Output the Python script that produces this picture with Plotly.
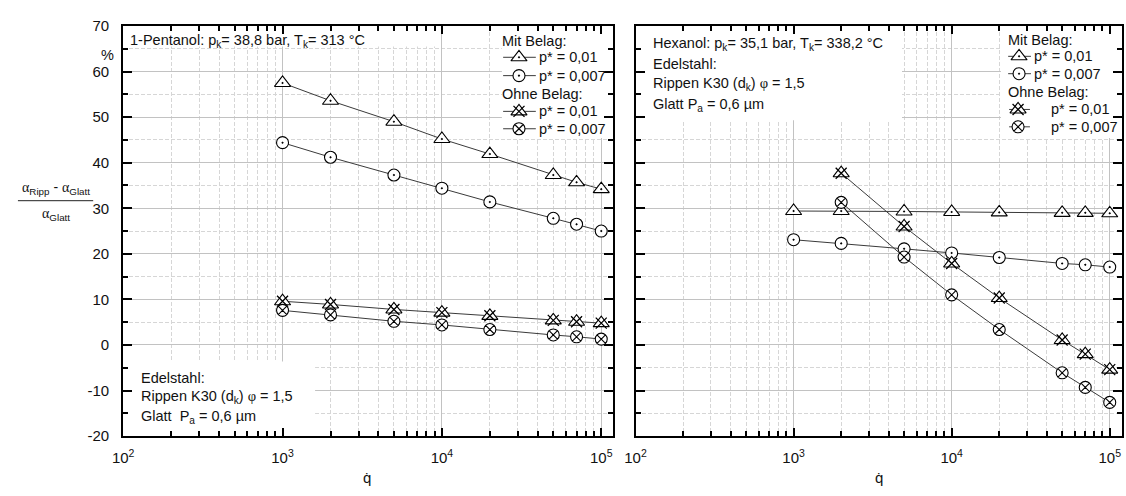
import plotly.graph_objects as go

W, H = 1126, 496

# heat flux density q̇ (W/m²)
q = [1e3, 2e3, 5e3, 1e4, 2e4, 5e4, 7e4, 1e5]

# 1-Pentanol, relative gain (alpha_Ripp - alpha_Glatt)/alpha_Glatt in %
pent_mit_001 = [57.5, 53.6, 49.0, 45.2, 41.9, 37.3, 35.7, 34.2]
pent_mit_0007 = [44.4, 41.2, 37.3, 34.4, 31.4, 27.8, 26.5, 25.0]
pent_ohne_001 = [9.6, 8.9, 7.8, 7.1, 6.4, 5.4, 5.1, 4.8]
pent_ohne_0007 = [7.6, 6.6, 5.2, 4.4, 3.4, 2.2, 1.8, 1.3]

# Hexanol
hex_mit_001 = [29.4, 29.4, 29.3, 29.2, 29.1, 29.0, 29.0, 28.9]
hex_mit_0007 = [23.1, 22.3, 21.1, 20.2, 19.2, 17.9, 17.6, 17.1]
hex_ohne_001 = [None, 37.7, 26.0, 17.9, 10.3, 1.1, -2.0, -5.4]
hex_ohne_0007 = [None, 31.3, 19.3, 11.0, 3.4, -6.1, -9.3, -12.6]

x_major = [1e2, 1e3, 1e4, 1e5]
x_major_text = ["10<sup>2</sup>", "10<sup>3</sup>", "10<sup>4</sup>", "10<sup>5</sup>"]
x_minor = [m * d for d in (1e2, 1e3, 1e4) for m in range(2, 10)]
y_major = list(range(-20, 71, 10))
y_major_text = [str(v) for v in y_major]

FONT = "Liberation Sans, Arial, sans-serif"
SERIF = "Liberation Serif, DejaVu Serif, serif"
TXT = 14.5
LINE_C = "#3a3a3a"
EDGE = "black"
GRID = "#c2c2c2"
MINOR_GRID = "#d6d6d6"


def px(x):
    return x / W


def py(y):
    return 1 - y / H


fig = go.Figure()


def add_panel(xa, ya, s1, s2, s3, s4):
    common = dict(x=q, xaxis=xa, yaxis=ya, mode="lines+markers",
                  line=dict(color=LINE_C, width=1), showlegend=False,
                  connectgaps=False, hoverinfo="skip")
    fig.add_trace(go.Scatter(y=s1, marker=dict(symbol="triangle-up-dot", size=14, color="white",
                                               line=dict(color=EDGE, width=1.1)), **common))
    fig.add_trace(go.Scatter(y=s2, marker=dict(symbol="circle-dot", size=12, color="white",
                                               line=dict(color=EDGE, width=1.1)), **common))
    fig.add_trace(go.Scatter(y=s3, marker=dict(symbol="triangle-up", size=14, color="white",
                                               line=dict(color=EDGE, width=1.1)), **common))
    fig.add_trace(go.Scatter(x=q, y=s3, xaxis=xa, yaxis=ya, mode="markers", showlegend=False,
                             hoverinfo="skip",
                             marker=dict(symbol="x-thin-open", size=11, color=EDGE,
                                         line=dict(color=EDGE, width=1.3))))
    fig.add_trace(go.Scatter(y=s4, marker=dict(symbol="circle-x", size=12, color="white",
                                               line=dict(color=EDGE, width=1.1)), **common))


add_panel("x", "y", pent_mit_001, pent_mit_0007, pent_ohne_001, pent_ohne_0007)
add_panel("x2", "y2", hex_mit_001, hex_mit_0007, hex_ohne_001, hex_ohne_0007)

# legend glyphs on a pixel-space overlay
legend_rows = [
    # (x_left, x_mark, x_right, y, kind)
    (497, 513, 530, 50, "tri"), (497, 513, 530, 69, "circ"),
    (497, 513, 530, 106, "xtri"), (497, 513, 530, 124, "xcirc"),
    (1007, 1018, 1030, 49, "tri"), (1007, 1018, 1030, 67, "circ"),
    (1008, 1017, 1029, 104, "xtri"), (1008, 1017, 1029, 122, "xcirc"),
]
sym = {"tri": ("triangle-up-dot", 14), "circ": ("circle-dot", 12),
       "xtri": ("triangle-up", 14), "xcirc": ("circle-x", 12)}
for xl, xm, xr, yy, kind in legend_rows:
    fig.add_trace(go.Scatter(x=[xl, xr], y=[yy, yy], xaxis="x3", yaxis="y3", mode="lines",
                             line=dict(color=LINE_C, width=1), showlegend=False, hoverinfo="skip"))
    s, sz = sym[kind]
    fig.add_trace(go.Scatter(x=[xm], y=[yy], xaxis="x3", yaxis="y3", mode="markers",
                             marker=dict(symbol=s, size=sz, color="white",
                                         line=dict(color=EDGE, width=1.1)),
                             showlegend=False, hoverinfo="skip"))
    if kind == "xtri":
        fig.add_trace(go.Scatter(x=[xm], y=[yy], xaxis="x3", yaxis="y3", mode="markers",
                                 marker=dict(symbol="x-thin-open", size=11, color=EDGE,
                                             line=dict(color=EDGE, width=1.3)),
                                 showlegend=False, hoverinfo="skip"))

x_dom1 = [113.3 / W, 608.3 / W]
x_dom2 = [630.7 / W, 1121.7 / W]
y_dom = [1 - 442.3 / H, 1 - 17.6 / H]

xcommon = dict(type="log", range=[2, 5.076], tickmode="array", tickvals=x_major,
               ticktext=x_major_text, ticks="inside", ticklen=8, tickwidth=2, tickcolor="black",
               showline=True, linewidth=2, linecolor="black", mirror="allticks",
               showgrid=True, gridcolor=GRID, gridwidth=1, zeroline=False,
               ticklabelstandoff=7,
               tickfont=dict(family=FONT, size=15, color="#111"),
               minor=dict(tickmode="array", tickvals=x_minor, ticks="inside", ticklen=5,
                          tickwidth=1.5, tickcolor="black", showgrid=True,
                          gridcolor=MINOR_GRID, griddash="4px,2px", gridwidth=1))
ycommon = dict(range=[-20, 70], tickmode="array", tickvals=y_major, ticktext=y_major_text,
               ticks="inside", ticklen=9,
               tickwidth=2, tickcolor="black", showline=True, linewidth=2, linecolor="black",
               mirror="allticks", showgrid=True, gridcolor=GRID, gridwidth=1, zeroline=False,
               ticklabelstandoff=9,
               tickfont=dict(family=FONT, size=15, color="#111"),
               minor=dict(dtick=5, ticks="inside", ticklen=5, tickwidth=1.5, tickcolor="black",
                          showgrid=True, gridcolor=MINOR_GRID, griddash="4px,2px", gridwidth=1))

fig.update_layout(
    width=W, height=H, margin=dict(l=0, r=0, t=0, b=0),
    paper_bgcolor="white", plot_bgcolor="rgba(0,0,0,0)",
    font=dict(family=FONT, size=TXT, color="#111"),
    xaxis=dict(domain=x_dom1, anchor="y", **xcommon),
    yaxis=dict(domain=y_dom, anchor="x", showticklabels=True, **ycommon),
    xaxis2=dict(domain=x_dom2, anchor="y2", **xcommon),
    yaxis2=dict(domain=y_dom, anchor="x2", showticklabels=False, **ycommon),
    xaxis3=dict(domain=[0, 1], anchor="y3", range=[0, W], visible=False, fixedrange=True),
    yaxis3=dict(domain=[0, 1], anchor="x3", range=[H, 0], visible=False, fixedrange=True),
)

# white text backgrounds that mask the grid
boxes = [
    ("x", "y", 90, 9300, 65.5, 72),        # title, left panel
    ("x", "y", 23800, 1.3e5, 45.4, 72),    # legend, left panel
    ("x", "y", 90, 1600, -22, -3.6),       # material note, left panel
    ("x2", "y2", 90, 4850, 49.3, 72),      # title/notes, right panel
    ("x2", "y2", 20500, 1.3e5, 45.4, 72),  # legend, right panel
]
for xr, yr, x0, x1, y0, y1 in boxes:
    fig.add_shape(type="rect", xref=xr, yref=yr, x0=x0, x1=x1, y0=y0, y1=y1,
                  fillcolor="white", line=dict(width=0), layer="between")

# fraction bar of the y-axis title
fig.add_shape(type="line", xref="paper", yref="paper", x0=px(7), x1=px(83), y0=py(198.5),
              y1=py(198.5), line=dict(color="#222", width=1))


def txt(x, y, s, xanchor="left", size=TXT):
    fig.add_annotation(x=px(x), y=py(y), xref="paper", yref="paper", text=s, showarrow=False,
                       xanchor=xanchor, yanchor="middle", align="left", borderpad=0,
                       font=dict(family=FONT, size=size, color="#111"))


def alpha(sub):
    return f'<span style="font-family:{SERIF}">α</span><sub>{sub}</sub>'


phi = f'<span style="font-family:{SERIF}">φ</span>'

txt(45, 185, f"{alpha('Ripp')} - {alpha('Glatt')}", xanchor="center", size=14)
txt(45, 213, alpha("Glatt"), xanchor="center", size=14)
txt(97, 48, "%", xanchor="center")

txt(119, 33, "1-Pentanol: p<sub>k</sub>= 38,8 bar, T<sub>k</sub>= 313 °C")
txt(130, 382, "Edelstahl:")
txt(130, 402, f"Rippen K30 (d<sub>k</sub>) {phi} = 1,5")
txt(130, 422, "Glatt  P<sub>a</sub> = 0,6 µm")

txt(647, 36, "Hexanol: p<sub>k</sub>= 35,1 bar, T<sub>k</sub>= 338,2 °C")
txt(647, 57, "Edelstahl:")
txt(647, 78, f"Rippen K30 (d<sub>k</sub>) {phi} = 1,5")
txt(647, 99, "Glatt P<sub>a</sub> = 0,6 µm")

txt(495, 33, "Mit Belag:")
txt(532, 50, "p* = 0,01")
txt(532, 69, "p* = 0,007")
txt(495, 88, "Ohne Belag:")
txt(532, 106, "p* = 0,01")
txt(532, 124, "p* = 0,007")

txt(1006, 32, "Mit Belag:")
txt(1032, 49, "p* = 0,01")
txt(1032, 67, "p* = 0,007")
txt(1006, 86, "Ohne Belag:")
txt(1049, 104, "p* = 0,01")
txt(1049, 122, "p* = 0,007")

txt(360, 485, "q\u0307", xanchor="center", size=15)
txt(877, 485, "q\u0307", xanchor="center", size=15)

fig.write_html("out.html")
